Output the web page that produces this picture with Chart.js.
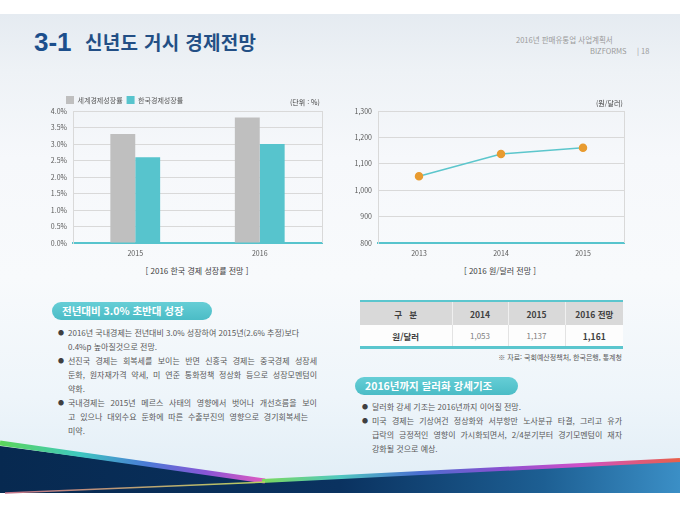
<!DOCTYPE html>
<html lang="ko">
<head>
<meta charset="utf-8">
<script src="https://cdn.jsdelivr.net/npm/chart.js@4.4.0/dist/chart.umd.min.js"></script>
<style>
  html, body { margin: 0; padding: 0; }
  body { width: 680px; height: 510px; position: relative; overflow: hidden; background: #fff;
         font-family: 'Noto Sans CJK KR', 'Noto Sans', sans-serif; }
  .slide { position: absolute; left: 0; top: 14px; width: 680px; height: 479px;
           background: linear-gradient(180deg, #e5ebf1 0%, #eef2f6 12%, #f6f8fb 30%, #f8fafc 55%, #eef5fa 80%, #e0edf6 100%); }
  .abs { position: absolute; white-space: nowrap; }
  .title-num { left: 34px; top: 27px; font: bold 26px 'Liberation Sans', Arial, sans-serif; color: #1c4f8c; }
  .title-txt { left: 85px; top: 28px; font-size: 19px; font-weight: 700; color: #234f85; letter-spacing: 0.3px; }
  .hdr { font-size: 7.5px; color: #9a9a9a; }
  .chart-box { position: absolute; }
  .cap { font-size: 8px; color: #404040; transform: translateX(-50%); }
  .unit { font-size: 7px; color: #404040; }
  .pill { position: absolute; height: 18px; border-radius: 9px; color: #fff; font-weight: 700; font-size: 10.5px;
          line-height: 18px; background: linear-gradient(180deg, #66ced6 0%, #4bbcc6 100%); box-sizing: border-box; }
  .txt { position: absolute; font-size: 8px; color: #595959; line-height: 14px; }
  .ln { display: block; white-space: nowrap; height: 14px; }
  .j { text-align: justify; text-align-last: justify; }
  .b { position: relative; }
  .b::before { content: '●'; position: absolute; left: -10px; top: 0; font-size: 6px; color: #404040; }
  table { position: absolute; left: 360px; top: 300px; width: 263px; border-collapse: collapse; table-layout: fixed;
          border-top: 2px solid #5bc6ce; border-bottom: 3px solid #5bc6ce; }
  th { background: #d9d9d9; height: 23px; font-size: 8.5px; color: #404040; font-weight: 700; border-left: 1px solid #efefef; padding: 0; }
  td { background: #fdfdfd; height: 21px; font-size: 8px; color: #808080; text-align: center; border-left: 1px solid #e3e3e3; padding: 0; }
  th:first-child, td:first-child { border-left: none; }
  td.bold { font-weight: 700; color: #404040; font-size: 8.5px; }
  .note { font-size: 7px; color: #595959; }
</style>
</head>
<body>
<div class="slide"></div>

<svg class="abs" style="left:0;top:0" width="680" height="510" viewBox="0 0 680 510">
  <defs>
    <linearGradient id="band" gradientUnits="userSpaceOnUse" x1="0" y1="0" x2="680" y2="0">
      <stop offset="0" stop-color="#072950"/>
      <stop offset="0.5" stop-color="#0a3260"/>
      <stop offset="0.8" stop-color="#1d5f93"/>
      <stop offset="1" stop-color="#3b8fc6"/>
    </linearGradient>
    <linearGradient id="s1" gradientUnits="userSpaceOnUse" x1="0" y1="0" x2="265" y2="0">
      <stop offset="0" stop-color="#5cd65a"/>
      <stop offset="0.3" stop-color="#3ec8c0"/>
      <stop offset="0.55" stop-color="#4a7bd6"/>
      <stop offset="0.78" stop-color="#8a55d6"/>
      <stop offset="1" stop-color="#e05ac0"/>
    </linearGradient>
    <linearGradient id="s2" gradientUnits="userSpaceOnUse" x1="265" y1="0" x2="680" y2="0">
      <stop offset="0" stop-color="#7ad860"/>
      <stop offset="0.18" stop-color="#50c8c0"/>
      <stop offset="0.37" stop-color="#4a6fd0"/>
      <stop offset="0.57" stop-color="#8a50d0"/>
      <stop offset="0.76" stop-color="#d050c8"/>
      <stop offset="1" stop-color="#e86048"/>
    </linearGradient>
    <linearGradient id="s3" gradientUnits="userSpaceOnUse" x1="5" y1="0" x2="265" y2="0">
      <stop offset="0" stop-color="#c07088"/>
      <stop offset="1" stop-color="#b8d060"/>
    </linearGradient>
  </defs>
  <polygon points="0,446 265,481 680,461 680,493 0,493" fill="url(#band)"/>
  <line x1="0" y1="443" x2="265" y2="481" stroke="url(#s1)" stroke-width="5"/>
  <line x1="262" y1="481" x2="680" y2="460" stroke="url(#s2)" stroke-width="4"/>
  <line x1="5" y1="493" x2="265" y2="482" stroke="url(#s3)" stroke-width="1.5"/>
</svg>

<div class="abs title-num">3-1</div>
<div class="abs title-txt">신년도 거시 경제전망</div>
<div class="abs hdr" style="left:516px;top:34px;">2016년 판매유통업 사업계획서</div>
<div class="abs hdr" style="left:590px;top:45px;">BIZFORMS</div>
<div class="abs hdr" style="left:637px;top:45px;">| 18</div>

<div class="chart-box" style="left:45px;top:82px;width:285px;height:183px;"><canvas id="growthChart"></canvas></div>
<div class="chart-box" style="left:345px;top:95px;width:285px;height:170px;"><canvas id="fxChart"></canvas></div>

<div class="abs unit" style="left:290px;top:97px;">(단위 : %)</div>
<div class="abs unit" style="left:596px;top:98px;">(원/달러)</div>
<div class="abs cap" style="left:197px;top:265px;">[ 2016 한국 경제 성장률 전망 ]</div>
<div class="abs cap" style="left:500px;top:265px;">[ 2016 원/달러 전망 ]</div>

<div class="pill" style="left:52px;top:302px;width:160px;padding-left:10px;">전년대비 3.0% 초반대 성장</div>
<div class="txt" style="left:68px;top:326px;width:249px;">
  <span class="ln b">2016년 국내경제는 전년대비 3.0% 성장하여 2015년(2.6% 추정)보다</span>
  <span class="ln">0.4%p 높아질것으로 전망.</span>
  <span class="ln b j">선진국 경제는 회복세를 보이는 반면 신흥국 경제는 중국경제 성장세</span>
  <span class="ln j">둔화, 원자재가격 약세, 미 연준 통화정책 정상화 등으로 성장모멘텀이</span>
  <span class="ln">약화.</span>
  <span class="ln b j">국내경제는 2015년 메르스 사태의 영향에서 벗어나 개선흐름을 보이</span>
  <span class="ln j" style="width:240px;">고 있으나 대외수요 둔화에 따른 수출부진의 영향으로 경기회복세는</span>
  <span class="ln">미약.</span>
</div>

<table>
  <colgroup><col style="width:92px"><col style="width:56px"><col style="width:57px"><col style="width:58px"></colgroup>
  <tr><th>구&nbsp;&nbsp;&nbsp;분</th><th>2014</th><th>2015</th><th>2016 전망</th></tr>
  <tr><td class="bold">원/달러</td><td>1,053</td><td>1,137</td><td class="bold">1,161</td></tr>
</table>
<div class="abs note" style="right:58px;top:352px;">※ 자료: 국회예산정책처, 한국은행, 통계청</div>

<div class="pill" style="left:355px;top:377px;width:163px;padding-left:10px;">2016년까지 달러화 강세기조</div>
<div class="txt" style="left:372px;top:400px;width:250px;">
  <span class="ln b">달러화 강세 기조는 2016년까지 이어질 전망.</span>
  <span class="ln b j">미국 경제는 기상여건 정상화와 서부항만 노사분규 타결, 그리고 유가</span>
  <span class="ln j">급락의 긍정적인 영향이 가시화되면서, 2/4분기부터 경기모멘텀이 재자</span>
  <span class="ln">강화될 것으로 예상.</span>
</div>

<script>
// growth chart data
const growthYears = ['2015', '2016'];
const worldGrowth = [3.3, 3.8];
const koreaGrowth = [2.6, 3.0];

// won/dollar chart data
const fxYears = ['2013', '2014', '2015'];
const fxRate = [1053, 1137, 1161];

const fontFamily = "'Noto Sans CJK KR', 'Noto Sans', sans-serif";
const tickFont = { family: fontFamily, size: 7 };
const gridGray = '#d9d9d9';
const teal = '#57c4cd';

// right-hand frame line of the plot box
const rightFrame = {
    id: 'rightFrame',
    afterDraw(chart) {
        const { ctx, chartArea } = chart;
        ctx.save();
        ctx.strokeStyle = gridGray;
        ctx.lineWidth = 1;
        ctx.beginPath();
        ctx.moveTo(Math.round(chartArea.right) + 0.5, chartArea.top);
        ctx.lineTo(Math.round(chartArea.right) + 0.5, chartArea.bottom);
        ctx.stroke();
        ctx.restore();
    }
};

// nudge the legend so it lines up with the plot box, not the tick labels
const legendShift = {
    id: 'legendShift',
    afterLayout(chart) {
        const lg = chart.legend;
        if (lg) { lg.left += 13; lg.right += 13; lg.top += 3; lg.bottom += 3; }
    }
};

new Chart(document.getElementById('growthChart').getContext('2d'), {
    type: 'bar',
    data: {
        labels: growthYears,
        datasets: [
            { label: '세계경제성장률', data: worldGrowth, backgroundColor: '#bfbfbf', categoryPercentage: 0.4, barPercentage: 1.0 },
            { label: '한국경제성장률', data: koreaGrowth, backgroundColor: teal, categoryPercentage: 0.4, barPercentage: 1.0 }
        ]
    },
    plugins: [rightFrame, legendShift],
    options: {
        responsive: true,
        maintainAspectRatio: false,
        animation: false,
        layout: { padding: { left: 4, right: 8, top: 7, bottom: 0 } },
        plugins: {
            legend: {
                position: 'top',
                align: 'start',
                labels: { boxWidth: 8, boxHeight: 8, padding: 4, color: '#595959', font: tickFont }
            },
            tooltip: { enabled: false }
        },
        scales: {
            x: {
                grid: { display: false, drawTicks: false },
                border: { color: teal, width: 2 },
                ticks: { color: '#595959', font: tickFont, padding: 6 },
                afterFit: s => { s.height = 22; }
            },
            y: {
                min: 0, max: 4,
                grid: { drawTicks: false, color: ctx => ctx.tick.value === 0 ? 'rgba(0,0,0,0)' : gridGray },
                border: { color: gridGray },
                ticks: { stepSize: 0.5, padding: 6, color: '#595959', font: tickFont, callback: v => v.toFixed(1) + '%' },
                afterFit: s => { s.width = 24; }
            }
        }
    }
});

new Chart(document.getElementById('fxChart').getContext('2d'), {
    type: 'line',
    data: {
        labels: fxYears,
        datasets: [{
            label: '원/달러',
            data: fxRate,
            borderColor: '#5cc6cc',
            borderWidth: 1.5,
            pointBackgroundColor: '#e89b30',
            pointBorderColor: '#e89b30',
            pointRadius: 3.5,
            tension: 0
        }]
    },
    plugins: [rightFrame],
    options: {
        responsive: true,
        maintainAspectRatio: false,
        animation: false,
        layout: { padding: { left: 0, right: 6, top: 16, bottom: 0 } },
        plugins: { legend: { display: false }, tooltip: { enabled: false } },
        scales: {
            x: {
                offset: true,
                grid: { display: false, drawTicks: false },
                border: { color: teal, width: 2 },
                ticks: { color: '#595959', font: tickFont, padding: 6 },
                afterFit: s => { s.height = 22; }
            },
            y: {
                min: 800, max: 1300,
                grid: { drawTicks: false, color: ctx => ctx.tick.value === 800 ? 'rgba(0,0,0,0)' : gridGray },
                border: { color: gridGray },
                ticks: { stepSize: 100, padding: 6, color: '#595959', font: tickFont, callback: v => v.toLocaleString('en-US') },
                afterFit: s => { s.width = 33; }
            }
        }
    }
});
</script>
</body>
</html>
